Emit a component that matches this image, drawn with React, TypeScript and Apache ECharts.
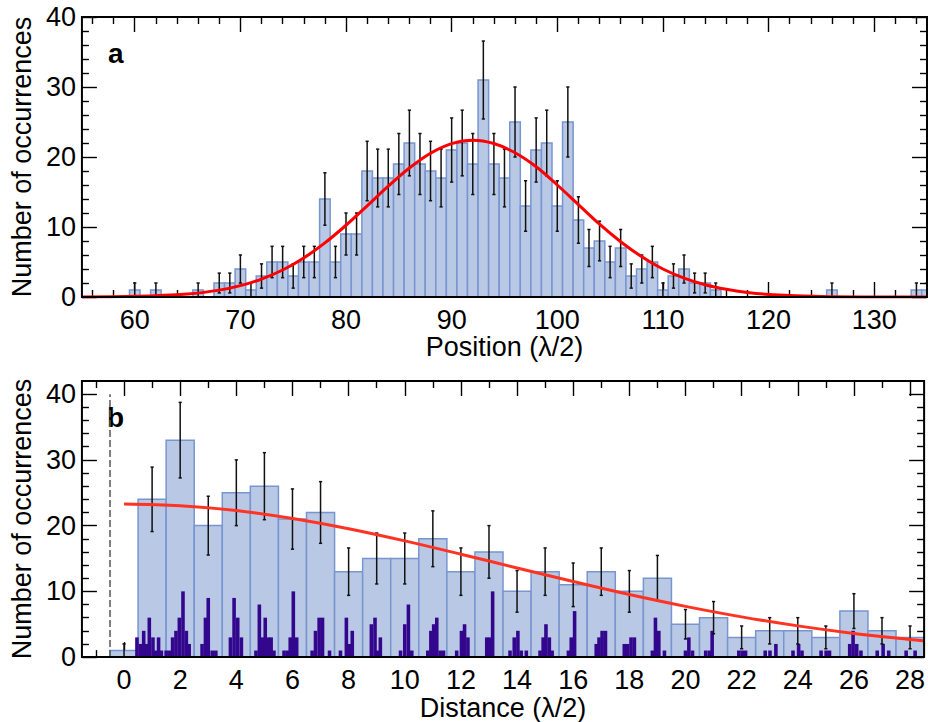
import React, { useEffect, useRef } from 'react';
import * as echarts from 'echarts';

// ---------- Panel a: position histogram ----------
const positionBins = [60, 62, 66, 68, 69, 70, 71, 72, 73, 74, 75, 76, 77, 78, 79, 80, 81, 82, 83, 84, 85, 86, 87, 88, 89, 90, 91, 92, 93, 94, 95, 96, 97, 98, 99, 100, 101, 102, 103, 104, 105, 106, 107, 108, 109, 110, 111, 112, 113, 114, 115, 126, 134, 135];
const positionCounts = [1, 1, 1, 2, 2, 4, 1, 3, 5, 5, 3, 5, 5, 14, 5, 9, 9, 18, 17, 17, 19, 22, 19, 18, 17, 21, 22, 19, 31, 19, 17, 25, 13, 21, 22, 13, 25, 11, 7, 8, 5, 7, 3, 4, 5, 1, 3, 4, 2, 2, 1, 1, 1, 1];
const positionTickLabels = [60, 70, 80, 90, 100, 110, 120, 130];
const fitAX = [55, 60, 65, 68, 70, 72, 74, 76, 78, 80, 82, 84, 86, 88, 90, 92, 94, 96, 98, 100, 102, 104, 106, 108, 110, 112, 114, 116, 118, 120, 125, 130, 135];
const fitAY = [0.01, 0.09, 0.43, 0.98, 1.62, 2.56, 3.86, 5.58, 7.73, 10.25, 13.02, 15.83, 18.43, 20.54, 21.92, 22.4, 21.92, 20.6, 18.6, 16.0, 13.2, 10.4, 7.9, 5.75, 4.0, 2.7, 1.75, 1.1, 0.65, 0.37, 0.07, 0.01, 0.0];

// ---------- Panel b: distance histogram ----------
const distanceBins = [0, 1, 2, 3, 4, 5, 6, 7, 8, 9, 10, 11, 12, 13, 14, 15, 16, 17, 18, 19, 20, 21, 22, 23, 24, 25, 26, 27, 28];
const distanceCounts = [1, 24, 33, 20, 25, 26, 21, 22, 13, 15, 15, 18, 13, 16, 10, 13, 11, 13, 10, 12, 5, 6, 3, 4, 4, 3, 7, 4, 3];
const distanceTickLabels = [0, 2, 4, 6, 8, 10, 12, 14, 16, 18, 20, 22, 24, 26, 28];
const countTickLabels = [0, 10, 20, 30, 40];
const fineCenters = [
  0.46, 0.58, 0.7, 0.8, 0.9, 1.03, 1.13, 1.23, 1.33,
  1.5, 1.62, 1.73, 1.85, 1.97, 2.1, 2.22, 2.32,
  2.78, 2.9, 3.0, 3.14, 3.27,
  3.79, 3.92, 4.05, 4.18,
  4.7, 4.82, 4.93, 5.03, 5.14, 5.24, 5.34,
  5.7, 5.82, 5.92, 6.03, 6.15,
  6.7, 6.82, 6.95, 7.07, 7.32,
  7.71, 7.92, 8.03, 8.13,
  8.81, 8.94, 9.04, 9.13,
  9.85, 10.0, 10.13, 10.25,
  10.82, 10.93, 11.03, 11.14, 11.26, 11.38,
  11.85, 12.02, 12.13, 12.25,
  12.92, 13.02, 13.13,
  13.75, 13.9, 14.03, 14.15, 14.33,
  14.82, 14.93, 15.03, 15.15, 15.25,
  15.83, 15.93, 16.05,
  16.82, 16.92, 17.03, 17.15,
  17.82, 17.94, 18.06, 18.18,
  18.82, 18.93, 19.05, 19.25,
  20.0, 20.12, 20.25,
  20.72, 20.85, 20.95,
  21.9, 22.02, 22.14,
  22.84, 23.01, 23.22,
  23.83, 24.03, 24.15,
  24.83, 25.01, 25.13,
  25.85, 25.97, 26.1, 26.25,
  26.83, 27.04, 27.24,
  27.86, 28.18
];
const fineCounts = [
  3, 2, 4, 2, 6, 3, 1, 3, 1,
  1, 1, 3, 4, 6, 10, 4, 2,
  2, 6, 9, 1, 1,
  3, 9, 6, 3,
  1, 8, 3, 6, 3, 3, 1,
  1, 1, 3, 10, 3,
  1, 4, 6, 6, 1,
  1, 6, 2, 4,
  5, 6, 1, 3,
  1, 5, 8, 1,
  1, 4, 5, 6, 1, 1,
  1, 4, 5, 3,
  3, 3, 10,
  1, 3, 4, 1, 1,
  1, 3, 5, 3, 1,
  1, 3, 7,
  2, 3, 4, 4,
  2, 2, 3, 3,
  1, 6, 4, 1,
  1, 3, 1,
  1, 1, 4,
  1, 1, 1,
  1, 1, 2,
  1, 2, 1,
  1, 1, 1,
  2, 4, 2, 1,
  1, 2, 1,
  1, 1
];
const fitBX = [0, 2, 4, 6, 8, 10, 12, 14, 16, 18, 20, 22, 24, 26, 28, 28.5];
const fitBY = [23.3, 23.04, 22.29, 21.09, 19.53, 17.68, 15.65, 13.56, 11.49, 9.52, 7.72, 6.12, 4.75, 3.6, 2.67, 2.47];
const markerX = -0.5;
const markerTop = 40;

const FONT = '"Liberation Sans", Arial, Helvetica, sans-serif';
const BAR_FILL = '#b9c9e5';
const BAR_STROKE = '#7895cf';
const PURPLE = '#33068e';
const FINE_W = 0.128;

const minorOf = (from: number, to: number, step: number, majorStep: number) => {
  const out: number[] = [];
  for (let v = from; v <= to + 1e-9; v += step) {
    const r = Math.round(v * 1000) / 1000;
    if (Math.abs(r / majorStep - Math.round(r / majorStep)) > 1e-6) out.push(r);
  }
  return out;
};

function histRender(width: number, fill: string, stroke: string | null, lw: number) {
  return (params: any, api: any) => {
    const x = api.value(0);
    const y = api.value(1);
    const a = api.coord([x - width / 2, y]);
    const b = api.coord([x + width / 2, 0]);
    return {
      type: 'rect',
      shape: { x: a[0], y: a[1], width: b[0] - a[0], height: b[1] - a[1] },
      style: stroke ? { fill, stroke, lineWidth: lw } : { fill },
    };
  };
}

function errRender(params: any, api: any) {
  const x = api.value(0);
  const n = api.value(1);
  const e = Math.sqrt(n);
  const t = api.coord([x, n + e]);
  const b = api.coord([x, Math.max(0, n - e)]);
  const c = 1.6;
  const st = { stroke: '#111', lineWidth: 1.5 };
  return {
    type: 'group',
    children: [
      { type: 'line', shape: { x1: t[0], y1: t[1], x2: b[0], y2: b[1] }, style: st },
      { type: 'line', shape: { x1: t[0] - c, y1: t[1], x2: t[0] + c, y2: t[1] }, style: st },
      { type: 'line', shape: { x1: b[0] - c, y1: b[1], x2: b[0] + c, y2: b[1] }, style: st },
    ],
  };
}

function baseAxis(gridIndex: number, min: number, max: number, position: string) {
  return {
    type: 'value',
    gridIndex,
    min,
    max,
    position,
    splitLine: { show: false },
    axisLine: { show: false, onZero: false },
    axisLabel: { show: false },
    axisTick: { show: false },
    minorTick: { show: false },
  };
}

function tickAxis(gridIndex: number, min: number, max: number, position: string, ticks: number[], len: number) {
  return {
    ...baseAxis(gridIndex, min, max, position),
    axisTick: { show: true, inside: true, length: len, customValues: ticks, lineStyle: { color: '#000', width: 1.4 } },
  };
}

function axisSet(
  gridIndex: number, min: number, max: number, positions: [string, string],
  labels: number[], minors: number[], name: string, nameGap: number, isY: boolean
) {
  const main: any = tickAxis(gridIndex, min, max, positions[0], labels, 15);
  main.axisLabel = {
    show: true, customValues: labels, fontSize: 27, color: '#000', fontFamily: FONT, margin: isY ? 6 : 9,
  };
  main.name = name;
  main.nameLocation = 'middle';
  main.nameGap = nameGap;
  main.nameTextStyle = { fontSize: 27, color: '#000', fontFamily: FONT };
  return [
    main,
    tickAxis(gridIndex, min, max, positions[0], minors, 7),
    tickAxis(gridIndex, min, max, positions[1], labels, 15),
    tickAxis(gridIndex, min, max, positions[1], minors, 7),
  ];
}

export default function App() {
  const ref = useRef<HTMLDivElement>(null);
  useEffect(() => {
    if (!ref.current) return;
    const chart = echarts.init(ref.current, null, { renderer: 'svg' });
    const posData = positionBins.map((b, i) => [b, positionCounts[i]]);
    const distData = distanceBins.map((b, i) => [b, distanceCounts[i]]);
    const fineData = fineCenters.map((c, i) => [c, fineCounts[i]]);
    const option: any = {
      animation: false,
      backgroundColor: '#fff',
      grid: [
        { left: 77, right: 1, top: 17, height: 280, show: true, borderColor: '#000', borderWidth: 2, backgroundColor: 'transparent', z: 10 },
        { left: 77, right: 1, top: 381, height: 280, show: true, borderColor: '#000', borderWidth: 2, backgroundColor: 'transparent', z: 10 },
      ],
      xAxis: [
        ...axisSet(0, 55, 135, ['bottom', 'top'], positionTickLabels, minorOf(56, 134, 2, 10), 'Position (λ/2)', 34, false),
        ...axisSet(1, -1.5, 28.5, ['bottom', 'top'], distanceTickLabels, minorOf(-1, 27, 1, 2), 'Distance (λ/2)', 33, false),
      ],
      yAxis: [
        ...axisSet(0, 0, 40, ['left', 'right'], countTickLabels, minorOf(2, 38, 2, 10), 'Number of occurrences', 43, true),
        ...axisSet(1, 0, 42, ['left', 'right'], countTickLabels, minorOf(2, 40, 2, 10), 'Number of occurrences', 43, true),
      ],
      graphic: [
        { type: 'text', left: 108, top: 39, style: { text: 'a', font: `bold 28px ${FONT}`, fill: '#000' } },
        { type: 'text', left: 107, top: 403, style: { text: 'b', font: `bold 28px ${FONT}`, fill: '#000' } },
      ],
      series: [
        { type: 'custom', xAxisIndex: 0, yAxisIndex: 0, renderItem: histRender(1, BAR_FILL, BAR_STROKE, 1.5), data: posData, clip: true, z: 2, silent: true },
        { type: 'custom', xAxisIndex: 0, yAxisIndex: 0, renderItem: errRender, data: posData, clip: true, z: 3, silent: true },
        {
          type: 'line', xAxisIndex: 0, yAxisIndex: 0, data: fitAX.map((x, i) => [x, fitAY[i]]),
          smooth: 0.35, showSymbol: false, symbol: 'none', lineStyle: { color: '#ff0000', width: 3 }, z: 4, silent: true,
        },
        { type: 'custom', xAxisIndex: 4, yAxisIndex: 4, renderItem: histRender(1, BAR_FILL, BAR_STROKE, 1.5), data: distData, clip: true, z: 2, silent: true },
        { type: 'custom', xAxisIndex: 4, yAxisIndex: 4, renderItem: histRender(FINE_W, PURPLE, null, 0), data: fineData, clip: true, z: 3, silent: true },
        { type: 'custom', xAxisIndex: 4, yAxisIndex: 4, renderItem: errRender, data: distData, clip: true, z: 4, silent: true },
        {
          type: 'line', xAxisIndex: 4, yAxisIndex: 4, data: fitBX.map((x, i) => [x, fitBY[i]]),
          smooth: 0.35, showSymbol: false, symbol: 'none', lineStyle: { color: '#ff3322', width: 3 }, z: 5, silent: true,
        },
        {
          type: 'line', xAxisIndex: 4, yAxisIndex: 4, data: [[markerX, 0], [markerX, markerTop]],
          showSymbol: false, symbol: 'none', lineStyle: { color: '#555', width: 1.5, type: [7, 3] }, z: 5, silent: true,
        },
      ],
    };
    chart.setOption(option);
    return () => chart.dispose();
  }, []);
  return <div ref={ref} style={{ position: 'absolute', left: 0, top: 0, width: 928, height: 722 }} />;
}
